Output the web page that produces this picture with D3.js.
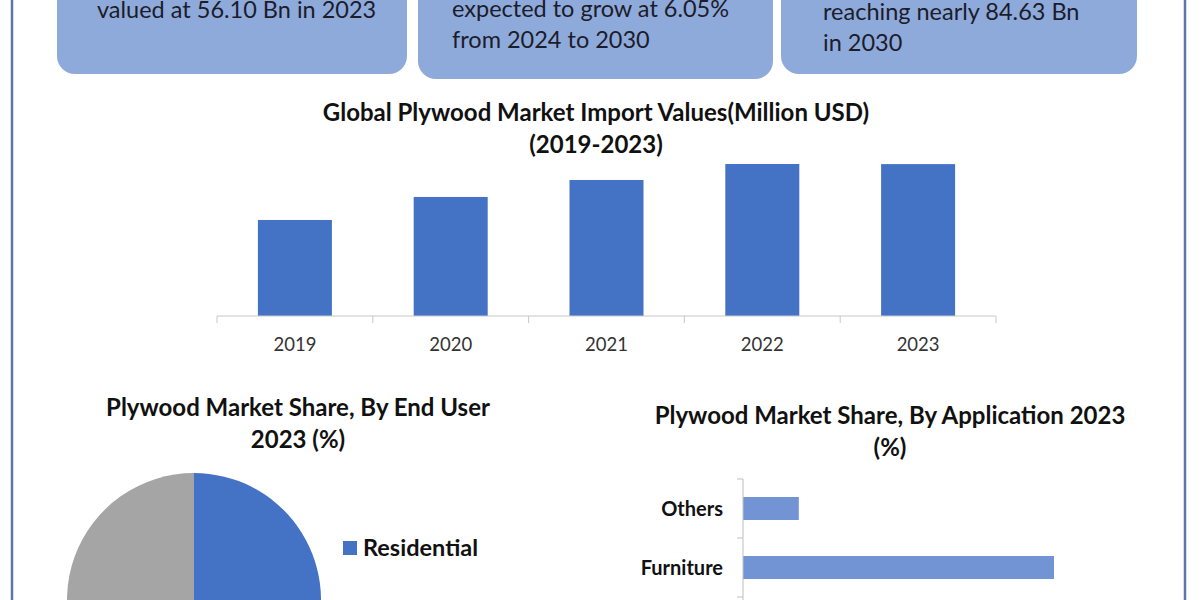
<!DOCTYPE html>
<html>
<head>
<meta charset="utf-8">
<script src="https://cdn.jsdelivr.net/npm/d3@7"></script>
<style>
  body { margin: 0; background: #fff; }
  svg { display: block; font-family: Lato, "Open Sans", sans-serif; }
</style>
</head>
<body>
<div id="chart"></div>
<script>
// text in the three header boxes (top lines are cut off in the picture)
var boxLines = [
    ["valued at 56.10 Bn in 2023"],
    ["expected to grow at 6.05%", "from 2024 to 2030"],
    ["reaching nearly 84.63 Bn", "in 2030"]
];

// import values, million USD
var years = ["2019", "2020", "2021", "2022", "2023"];
var importValues = [9470, 11740, 13410, 14990, 14980];

// end user share 2023 (%)
var endUsers = ["Residential", "Commercial"];
var endUserShare = [61, 39];

// application share 2023 (%)
var applications = ["Others", "Furniture"];
var applicationShare = [5.4, 30.1];

var width = 1200, height = 600;

var svg = d3.select("#chart")
    .append("svg")
    .attr("width", width)
    .attr("height", height);

svg.append("rect")
    .attr("width", width)
    .attr("height", height)
    .attr("fill", "#fff");

// frame lines left and right
svg.selectAll(".frame")
    .data([12, 1185])
    .enter().append("line")
    .attr("class", "frame")
    .attr("x1", function(d) { return d; })
    .attr("x2", function(d) { return d; })
    .attr("y1", 0)
    .attr("y2", height)
    .attr("stroke", "#5a77a8")
    .attr("stroke-width", 2.5);

// header boxes
var boxes = [
    {x: 57, w: 350, bottom: 74, tx: 97, ty: 18},
    {x: 418, w: 355, bottom: 79, tx: 452, ty: 17},
    {x: 781, w: 356, bottom: 74, tx: 823, ty: 20}
];

var boxG = svg.selectAll(".box")
    .data(boxes)
    .enter().append("g")
    .attr("class", "box");

boxG.append("rect")
    .attr("x", function(d) { return d.x; })
    .attr("y", -40)
    .attr("width", function(d) { return d.w; })
    .attr("height", function(d) { return d.bottom + 40; })
    .attr("rx", 18)
    .attr("fill", "#8eaadb");

boxG.each(function(d, i) {
    d3.select(this).selectAll("text")
        .data(boxLines[i])
        .enter().append("text")
        .attr("x", d.tx)
        .attr("y", function(t, j) { return d.ty + j * 31; })
        .attr("font-size", 23.5)
        .attr("fill", "#1c1c2a")
        .text(function(t) { return t; });
});

function title(lines, cx, y0) {
    svg.append("g").selectAll("text")
        .data(lines)
        .enter().append("text")
        .attr("x", cx)
        .attr("y", function(d, i) { return y0 + i * 32; })
        .attr("text-anchor", "middle")
        .attr("font-size", 24)
        .attr("font-weight", "bold")
        .attr("fill", "#111")
        .text(function(d) { return d; });
}

// ---- import values column chart ----
title(["Global Plywood Market Import Values(Million USD)", "(2019-2023)"], 596, 121);

var x = d3.scaleBand()
    .domain(years)
    .range([217, 996])
    .paddingInner(0.525)
    .paddingOuter(0.2625);

var y = d3.scaleLinear()
    .domain([0, d3.max(importValues)])
    .range([316, 164]);

svg.append("g").selectAll("rect")
    .data(importValues)
    .enter().append("rect")
    .attr("x", function(d, i) { return x(years[i]); })
    .attr("y", function(d) { return y(d); })
    .attr("width", x.bandwidth())
    .attr("height", function(d) { return y(0) - y(d); })
    .attr("fill", "#4472c4");

var xAxis = svg.append("g");
xAxis.append("line")
    .attr("x1", x.range()[0])
    .attr("x2", x.range()[1])
    .attr("y1", y(0))
    .attr("y2", y(0))
    .attr("stroke", "#c8c8c8");
xAxis.selectAll(".tick")
    .data(d3.range(years.length + 1))
    .enter().append("line")
    .attr("x1", function(i) { return x.range()[0] + i * x.step(); })
    .attr("x2", function(i) { return x.range()[0] + i * x.step(); })
    .attr("y1", y(0))
    .attr("y2", y(0) + 7)
    .attr("stroke", "#c8c8c8");
xAxis.selectAll("text")
    .data(years)
    .enter().append("text")
    .attr("x", function(d) { return x(d) + x.bandwidth() / 2; })
    .attr("y", y(0) + 35)
    .attr("text-anchor", "middle")
    .attr("font-size", 18.5)
    .attr("fill", "#333")
    .text(function(d) { return d; });

// ---- end user pie ----
title(["Plywood Market Share, By End User", "2023 (%)"], 298, 416);

var pie = d3.pie().sort(null);
var arc = d3.arc().innerRadius(0).outerRadius(127);
var pieColor = d3.scaleOrdinal().domain(endUsers).range(["#4472c4", "#a5a5a5"]);

svg.append("g")
    .attr("transform", "translate(194,600)")
    .selectAll("path")
    .data(pie(endUserShare))
    .enter().append("path")
    .attr("d", arc)
    .attr("fill", function(d, i) { return pieColor(endUsers[i]); });

var legend = svg.append("g").selectAll("g")
    .data(endUsers)
    .enter().append("g")
    .attr("transform", function(d, i) { return "translate(343," + (541 + i * 80) + ")"; });
legend.append("rect")
    .attr("width", 14)
    .attr("height", 14)
    .attr("fill", function(d) { return pieColor(d); });
legend.append("text")
    .attr("x", 20)
    .attr("y", 15)
    .attr("font-size", 23.5)
    .attr("font-weight", "bold")
    .attr("fill", "#111")
    .text(function(d) { return d; });

// ---- application bar chart ----
title(["Plywood Market Share, By Application 2023", "(%)"], 890, 424);

var yb = d3.scaleBand()
    .domain(applications)
    .range([479, 597])
    .paddingInner(0.61)
    .paddingOuter(0.305);

var xb = d3.scaleLinear()
    .domain([0, d3.max(applicationShare)])
    .range([743, 1054]);

svg.append("g").selectAll("rect")
    .data(applicationShare)
    .enter().append("rect")
    .attr("x", xb(0))
    .attr("y", function(d, i) { return yb(applications[i]); })
    .attr("width", function(d) { return xb(d) - xb(0); })
    .attr("height", yb.bandwidth())
    .attr("fill", "#7294d4");

var yAxis = svg.append("g");
yAxis.append("line")
    .attr("x1", xb(0))
    .attr("x2", xb(0))
    .attr("y1", yb.range()[0])
    .attr("y2", height)
    .attr("stroke", "#bfbfbf");
yAxis.selectAll(".tick")
    .data(d3.range(applications.length + 1))
    .enter().append("line")
    .attr("x1", xb(0) - 6)
    .attr("x2", xb(0))
    .attr("y1", function(i) { return yb.range()[0] + i * yb.step(); })
    .attr("y2", function(i) { return yb.range()[0] + i * yb.step(); })
    .attr("stroke", "#bfbfbf");
yAxis.selectAll("text")
    .data(applications)
    .enter().append("text")
    .attr("x", xb(0) - 20)
    .attr("y", function(d) { return yb(d) + yb.bandwidth() / 2; })
    .attr("dy", ".35em")
    .attr("text-anchor", "end")
    .attr("font-size", 20)
    .attr("font-weight", "bold")
    .attr("fill", "#111")
    .text(function(d) { return d; });
</script>
</body>
</html>
